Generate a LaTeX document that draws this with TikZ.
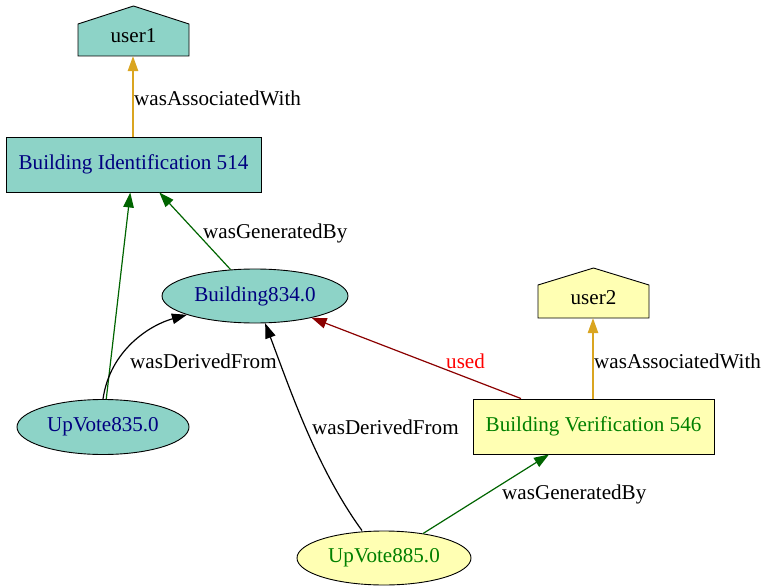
\documentclass[tikz,border=0pt]{standalone}
\usepackage{fontspec}
\setmainfont{Liberation Serif}
\usepackage{tikz}
\usetikzlibrary{arrows.meta, positioning, shapes.geometric}

\definecolor{tealfill}{HTML}{8DD3C7}
\definecolor{yelfill}{HTML}{FFFFB3}
\definecolor{assocline}{HTML}{DAA520}
\definecolor{gen}{HTML}{006400}
\definecolor{usedline}{HTML}{8B0000}
\definecolor{bluetext}{HTML}{000080}
\definecolor{greentext}{HTML}{008000}

\begin{document}
\begin{tikzpicture}[x=1pt, y=-1pt,
  every node/.style={font=\fontsize{21.1}{25}\selectfont},
  activity/.style={rectangle, draw, line width=0.9pt, minimum width=255pt, minimum height=55pt, inner sep=0pt},
  entity/.style={ellipse, draw, line width=0.9pt, inner sep=0pt},
  agent/.style={rectangle, minimum width=111pt, minimum height=40pt, inner sep=0pt},
  lbl/.style={anchor=base west, inner sep=0pt},
  link/.style={line width=1.2pt, -{Triangle[length=15pt, width=10.5pt]}}]
\useasboundingbox (0,0) rectangle (763,586);

% house outlines behind the agents
\fill[tealfill, draw=black, line width=0.9pt] (78,56) -- (78,24) -- (133.5,6) -- (189,24) -- (189,56) -- cycle;
\fill[yelfill, draw=black, line width=0.9pt] (538,318) -- (538,285) -- (593.5,268) -- (649,285) -- (649,318) -- cycle;

% nodes
\node[agent] (user1) at (133.5, 36) {user1};
\node[agent] (user2) at (593.5, 298) {user2};

\node[activity, fill=tealfill, text=bluetext] (bi514) at (133.5, 164.5) {Building Identification 514};
\node[activity, fill=yelfill, text=greentext, minimum width=241pt] (bv546) at (593.5, 426.5) {Building Verification 546};

\node[entity, fill=tealfill, text=bluetext, minimum width=186pt, minimum height=54pt] (b834) at (255, 296) {Building834.0};
\node[entity, fill=tealfill, text=bluetext, minimum width=172pt, minimum height=55pt] (uv835) at (103, 427) {UpVote835.0};
\node[entity, fill=yelfill, text=greentext, minimum width=174pt, minimum height=54pt] (uv885) at (384, 558) {UpVote885.0};

% arrows
\draw [link, assocline] ([xshift=-0.5pt]bi514.north) -- ([xshift=-0.5pt]user1.south);
\draw [link, assocline] ([xshift=-0.5pt]bv546.north) -- ([xshift=-0.5pt]user2.south);
\draw [link, gen] (b834) -- (bi514);
\draw [link, gen] (uv835) -- (bi514);
\draw [link, gen] (uv885) -- (bv546);
\draw [link, usedline] (bv546) -- (b834);
\draw [link] (uv835.north) .. controls (110,350) and (150,325) .. (b834);
\draw [link] ([xshift=-22pt]uv885.north) .. controls (318,470) and (292,395) .. (b834);

% labels
\node[lbl] (l1) at (134, 106) {wasAssociatedWith};
\node[lbl] (l2) at (203, 238) {wasGeneratedBy};
\node[lbl] (l3) at (130, 368) {wasDerivedFrom};
\node[lbl] (l4) at (312, 434) {wasDerivedFrom};
\node[lbl, text=red] (l5) at (446, 368) {used};
\node[lbl] (l6) at (594, 368) {wasAssociatedWith};
\node[lbl] (l7) at (502, 499) {wasGeneratedBy};
\end{tikzpicture}
\end{document}
